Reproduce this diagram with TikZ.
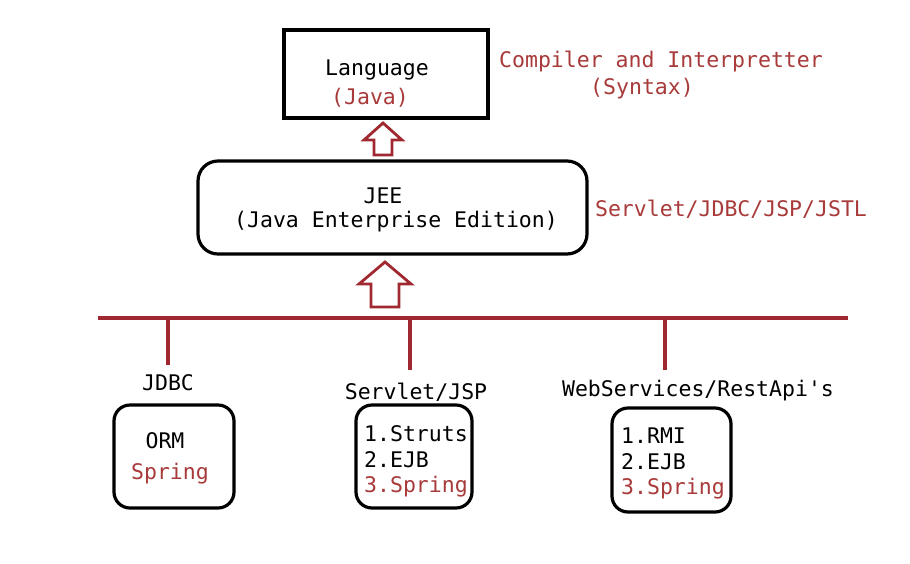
\documentclass[tikz,border=0pt]{standalone}
\usepackage{fontspec}
\setmainfont{DejaVu Sans Mono}
\setmonofont{DejaVu Sans Mono}
\definecolor{dred}{HTML}{A02830}
\definecolor{tred}{HTML}{A83A3A}
\begin{document}
\begin{tikzpicture}[x=1pt,y=-1pt,
  txt/.style={font=\fontsize{21.5}{25}\selectfont, inner sep=0pt, text=black},
  rtxt/.style={txt, text=tred},
  box/.style={draw=black, line width=3.2pt},
  rbox/.style={box, rounded corners=16pt},
  bus/.style={draw=dred, line width=3.2pt},
  hollow/.style={draw=dred, line width=2.8pt, fill=white, line join=miter}]
\useasboundingbox (0,0) rectangle (910,563);
\fill[white] (0,0) rectangle (910,563);
% Language box
\draw[box] (284,30) rectangle (488,118);
\node[txt] (lang) at (377,70) {Language};
\node[rtxt] (java) at (370,98) {(Java)};
\node[rtxt] (comp) at (661,62) {Compiler and Interpretter};
\node[rtxt] (syn) at (642,89) {(Syntax)};
% arrow 1
\draw[hollow] (374,155) -- (374,140) -- (364,140) -- (383,123) -- (402,140) -- (392,140) -- (392,155) -- cycle;
% JEE box
\draw[box, rounded corners=20pt] (198,161) rectangle (587,254);
\node[txt] (jee) at (383,196) {JEE};
\node[txt] (jeef) at (396,222) {(Java Enterprise Edition)};
\node[rtxt] (serv) at (731,209) {Servlet/JDBC/JSP/JSTL};
% arrow 2
\draw[hollow] (371,307) -- (371,284) -- (359,284) -- (385,262) -- (411,284) -- (399,284) -- (399,307) -- cycle;
% bus
\coordinate (bl) at (98,318);
\coordinate (br) at (848,318);
\draw[bus] (bl) -- (br);
\coordinate (t1) at (168,318);
\coordinate (t2) at (410,318);
\coordinate (t3) at (665,318);
\coordinate (e1) at (168,365);
\coordinate (e2) at (410,370);
\coordinate (e3) at (665,370);
\draw[bus] (t1) -- (e1);
\draw[bus] (t2) -- (e2);
\draw[bus] (t3) -- (e3);
% labels
\node[txt] (jdbc) at (168,383) {JDBC};
\node[txt] (sj) at (416,392) {Servlet/JSP};
\node[txt] (ws) at (698,391) {WebServices/RestApi\textquotesingle s};
% boxes
\draw[rbox] (114,405) rectangle (234,508);
\node[txt] (orm) at (165,441) {ORM};
\node[rtxt] (spr) at (170,474) {Spring};
\draw[rbox] (356,405) rectangle (472,508);
\node[txt, anchor=west] (s1) at (364,434) {1.Struts};
\node[txt, anchor=west] (s2) at (364,460) {2.EJB};
\node[rtxt, anchor=west] (s3) at (364,487) {3.Spring};
\draw[rbox] (612,408) rectangle (731,512);
\node[txt, anchor=west] (w1) at (621,436) {1.RMI};
\node[txt, anchor=west] (w2) at (621,462) {2.EJB};
\node[rtxt, anchor=west] (w3) at (621,489) {3.Spring};
\end{tikzpicture}
\end{document}
